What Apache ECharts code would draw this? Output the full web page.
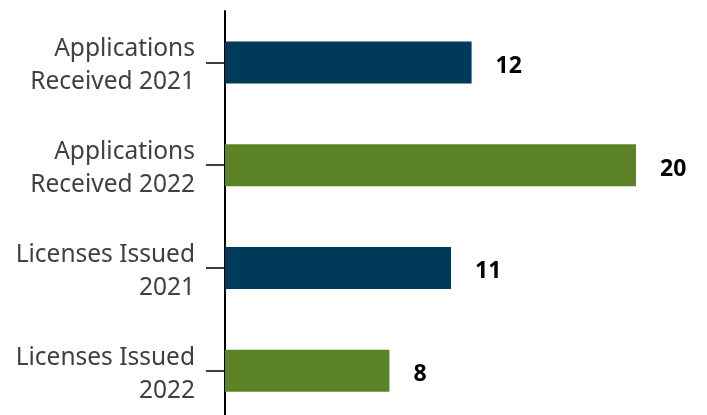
<!DOCTYPE html>
<html><head><meta charset="utf-8">
<script src="https://cdn.jsdelivr.net/npm/echarts@6/dist/echarts.min.js"></script>
<style>html,body{margin:0;padding:0;background:#fff}#c{width:707px;height:415px}</style>
</head><body><div id="c"></div>
<script>
const categories = ['Applications\nReceived 2021', 'Applications\nReceived 2022', 'Licenses Issued\n2021', 'Licenses Issued\n2022'];
const values = [12, 20, 11, 8];
const barColors = ['#003a5a', '#5c8427', '#003a5a', '#5c8427'];

const chart = echarts.init(document.getElementById('c'), null, {renderer: 'canvas'});
chart.setOption({
  animation: false,
  grid: {left: 225, right: 71, top: 11, bottom: -7, containLabel: false, outerBoundsMode: 'none'},
  xAxis: {type: 'value', min: 0, max: 20, show: false},
  yAxis: {
    type: 'category', data: categories, inverse: true,
    axisLine: {show: true, lineStyle: {color: '#000', width: 2}},
    axisTick: {show: true, alignWithLabel: true, length: 19, lineStyle: {color: '#000', width: 1.5}},
    axisLabel: {fontFamily: 'Noto Sans', fontSize: 24.5, color: '#404040', margin: 30, align: 'right',
      formatter: v => v.split('\n').map(s => '{t|' + s + '}').join('\n'),
      rich: {t: {fontFamily: 'Noto Sans', fontSize: 24.5, color: '#404040', lineHeight: 33, padding: [7, 0, 0, 0]}}},
    splitLine: {show: false}
  },
  series: [{
    type: 'bar', barWidth: 42,
    data: values.map((v, i) => ({value: v, itemStyle: {color: barColors[i]}})),
    label: {show: true, position: 'right', distance: 24, offset: [0, 4], fontFamily: 'Noto Sans', fontSize: 23, fontWeight: 'bold', color: '#000'}
  }]
});
</script></body></html>
